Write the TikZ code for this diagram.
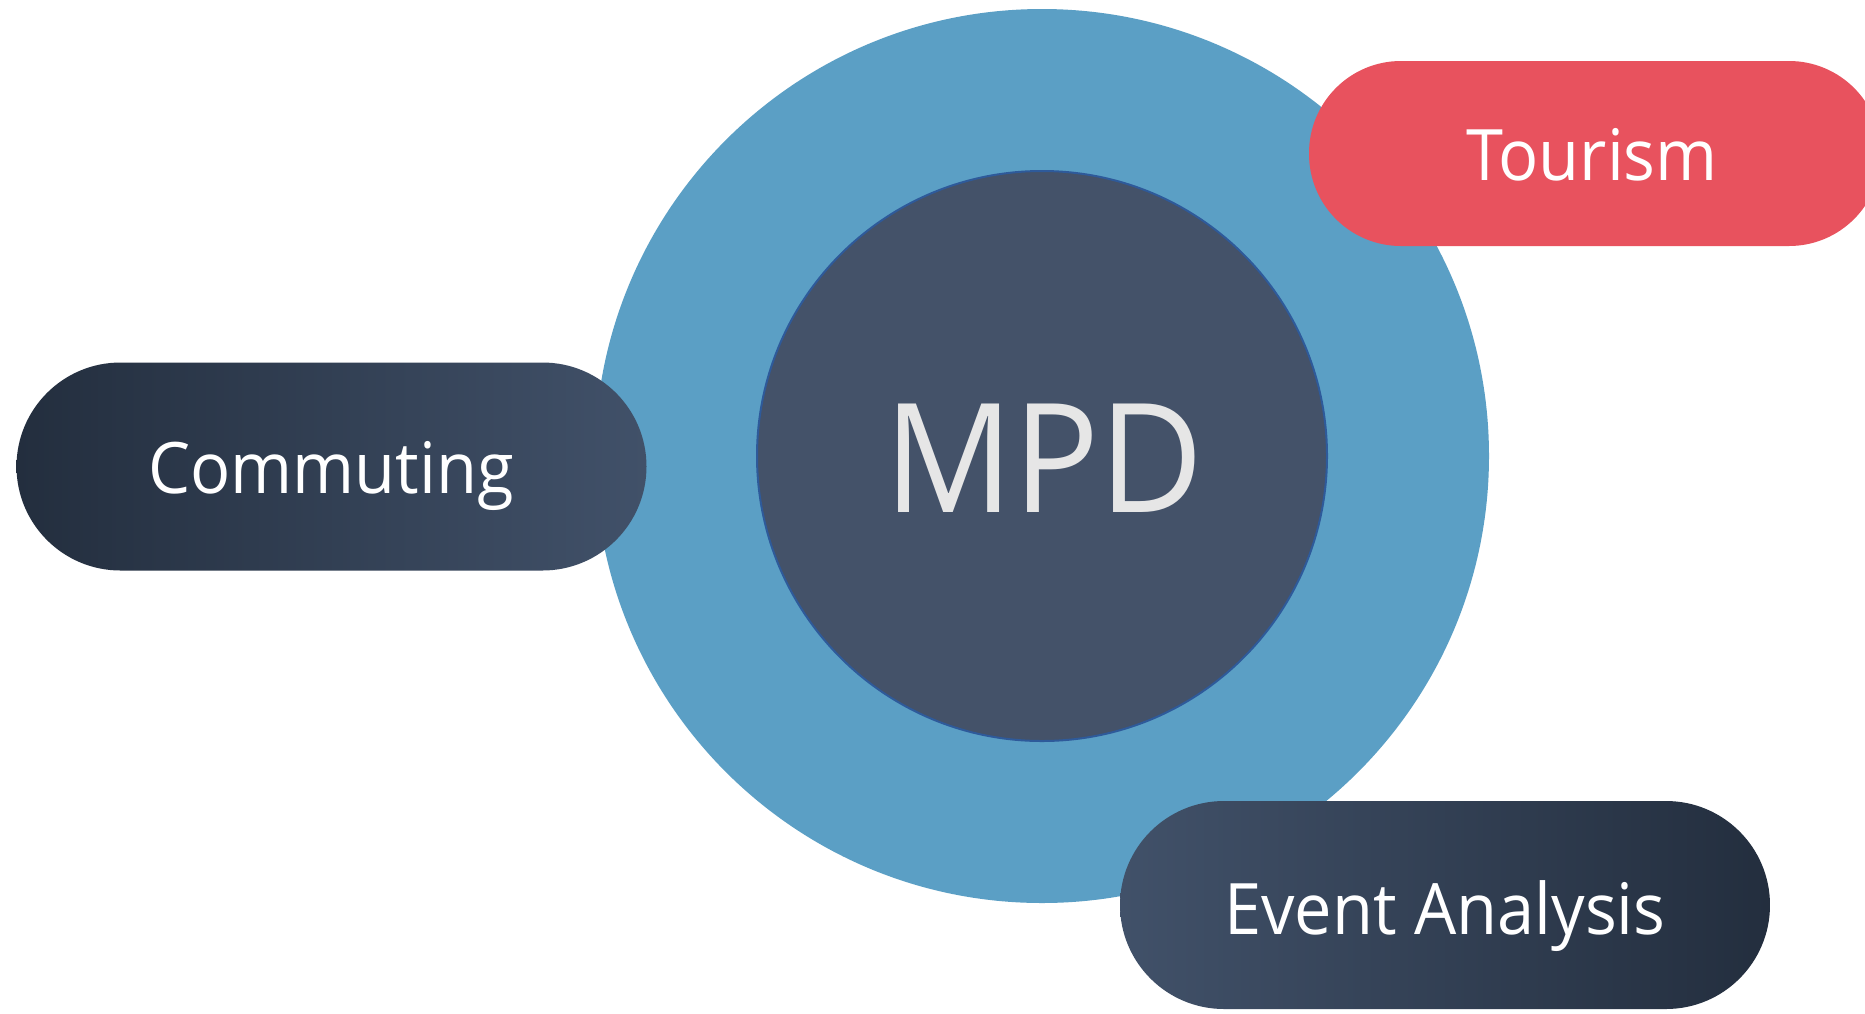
\documentclass[tikz,border=0pt]{standalone}
\usepackage{fontspec}
\setmainfont[FakeStretch=0.94]{Open Sans}
\definecolor{ringblue}{HTML}{5B9FC5}
\definecolor{coreblue}{HTML}{445269}
\definecolor{coreedge}{HTML}{2E5A9A}
\definecolor{tourred}{HTML}{E8525E}
\definecolor{navydark}{HTML}{232E3E}
\definecolor{navylight}{HTML}{415169}
\definecolor{mpdtext}{HTML}{E6E6E6}
\tikzset{
  pill/.style={rectangle, rounded corners=#1, inner sep=0pt, draw=none},
  pilltext/.style={anchor=base, text=white, inner sep=0pt, font=\fontsize{71}{80}\selectfont},
}
\begin{document}
\begin{tikzpicture}[x=1pt,y=-1pt]
\useasboundingbox (0,0) rectangle (1865,1013);
\clip (0,0) rectangle (1865,1013);
\fill[white] (0,0) rectangle (1865,1013);
% rings
\node[circle, fill=ringblue, minimum size=894pt, inner sep=0pt] (ring) at (1042,456) {};
\node[circle, fill=coreblue, draw=coreedge, line width=2pt, minimum size=570pt, inner sep=0pt] (core) at (1042,456) {};
\node[anchor=base, text=mpdtext, inner sep=0pt, font=\fontsize{152}{170}\selectfont] (mpd) at (1044,512) {MPD};
% pills
\node[pill=92pt, fill=tourred, minimum width=572pt, minimum height=185pt] (tour) at (1595,153.5) {};
\node[pilltext] (tourtxt) at (1592,180) {Tourism};
\node[pill=104pt, left color=navydark, right color=navylight, minimum width=630pt, minimum height=208pt] (comm) at (331.5,466.5) {};
\node[pilltext] (commtxt) at (331,493) {Commuting};
\node[pill=104pt, left color=navylight, right color=navydark, minimum width=650pt, minimum height=208pt] (event) at (1445,905) {};
\node[pilltext] (eventtxt) at (1445,934) {Event Analysis};
\end{tikzpicture}
\end{document}
